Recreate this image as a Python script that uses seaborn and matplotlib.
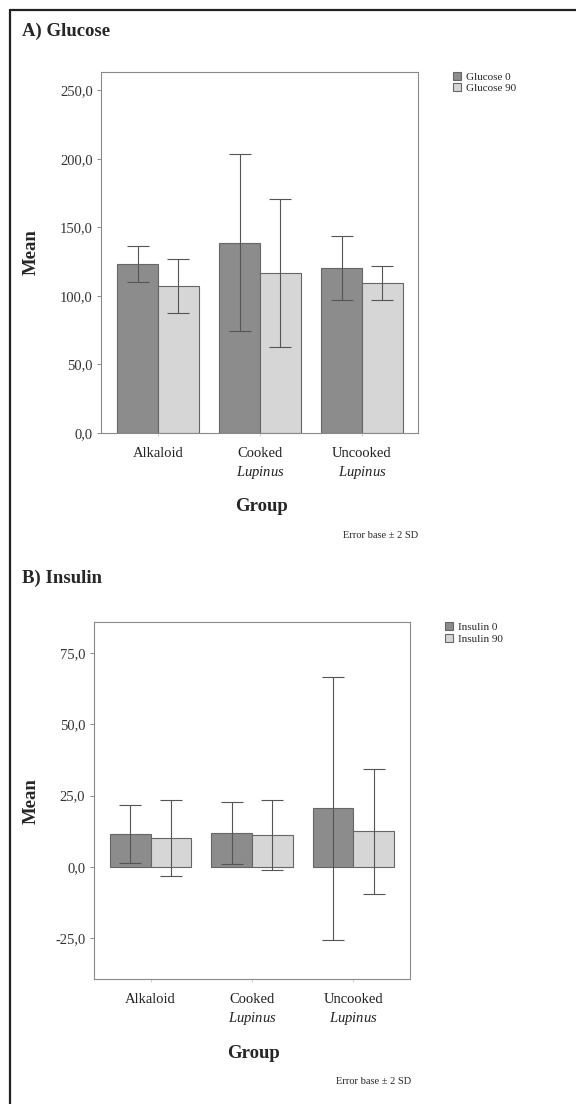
import pandas as pd
import seaborn as sns
import matplotlib.pyplot as plt
from matplotlib.lines import Line2D
from matplotlib.ticker import FuncFormatter

# Mean values and error (2 SD)
groups = ["Alkaloid", "Cooked Lupinus", "Uncooked Lupinus"]
group_labels = ["Alkaloid", "Cooked\n$\\it{Lupinus}$", "Uncooked\n$\\it{Lupinus}$"]

glucose_names = ["Glucose 0", "Glucose 90"]
glucose_0 = [123.4, 139.0, 120.6]
glucose_90 = [107.2, 116.5, 109.3]
glucose_0_err = [13.4, 64.5, 23.2]
glucose_90_err = [19.6, 54.0, 12.4]
glucose_ticks = [0, 50, 100, 150, 200, 250]

insulin_names = ["Insulin 0", "Insulin 90"]
insulin_0 = [11.5, 11.8, 20.5]
insulin_90 = [10.2, 11.1, 12.4]
insulin_0_err = [10.2, 10.8, 46.2]
insulin_90_err = [13.3, 12.3, 22.0]
insulin_ticks = [-25, 0, 25, 50, 75]

sns.set_style("white")
plt.rcParams['font.family'] = ['Liberation Serif', 'DejaVu Serif']
plt.rcParams['mathtext.fontset'] = 'custom'
plt.rcParams['mathtext.rm'] = 'Liberation Serif'
plt.rcParams['mathtext.it'] = 'Liberation Serif:italic'

dark = "#8c8c8c"
light = "#d6d6d6"
edge = "#666666"
spine_col = "#8a8a8a"

W, H = 576, 1104
fig = plt.figure(figsize=(W / 100, H / 100), dpi=100)


def comma(v, pos):
    return f"{v:.1f}".replace(".", ",")


def panel(ax, v0, v90, e0, e90, names, ticks, ylim, xlim, label_x, group_y):
    df = pd.DataFrame({
        "group": groups + groups,
        "series": [names[0]] * 3 + [names[1]] * 3,
        "mean": v0 + v90,
    })
    sns.barplot(data=df, x="group", y="mean", hue="series",
                palette=[dark, light], saturation=1, errorbar=None,
                edgecolor=edge, linewidth=0.8, width=0.8, ax=ax)
    # error bars at the bar centres, ordered group by group
    # (skip the empty rectangles seaborn keeps for the legend)
    bars = [b for b in ax.patches if b.get_width() > 0.1 and b.get_height() != 0]
    bars = sorted(bars, key=lambda b: b.get_x())
    errs = [e for pair in zip(e0, e90) for e in pair]
    for bar, err in zip(bars, errs):
        ax.errorbar(bar.get_x() + bar.get_width() / 2, bar.get_height(), yerr=err,
                    fmt="none", ecolor="#555555", elinewidth=0.8,
                    capsize=8, capthick=0.8)
    ax.set_ylim(*ylim)
    ax.set_xlim(*xlim)
    ax.set_yticks(ticks)
    ax.yaxis.set_major_formatter(FuncFormatter(comma))
    ax.set_xticks(range(len(groups)))
    ax.set_xticklabels(group_labels, fontsize=10.5, color="#222222", linespacing=1.35)
    ax.tick_params(axis="y", left=True, length=3, width=0.6, color="#777777",
                   pad=3, labelsize=10.5, labelcolor="#333333")
    ax.tick_params(axis="x", bottom=True, length=2, width=0.5, color="#bbbbbb", pad=8)
    for s in ax.spines.values():
        s.set_color(spine_col)
        s.set_linewidth(0.8)
    ax.set_xlabel("Group", fontsize=13.5, fontweight="bold", va="center")
    ax.xaxis.set_label_coords(0.505, group_y)
    ax.set_ylabel("Mean", fontsize=13.5, fontweight="bold", va="center")
    ax.yaxis.set_label_coords(label_x, 0.5)
    sns.move_legend(ax, "upper left", bbox_to_anchor=(1.11, 1.0), title=None,
                    frameon=False, fontsize=8, borderaxespad=0, borderpad=0,
                    handlelength=0.7, handleheight=0.7, handletextpad=0.5,
                    labelspacing=0.15)


ax1 = fig.add_axes([101 / W, 1 - 433 / H, 317 / W, 361 / H])
panel(ax1, glucose_0, glucose_90, glucose_0_err, glucose_90_err, glucose_names,
      glucose_ticks, (0, 263.5), (-0.56, 2.55), -0.22, -0.204)

ax2 = fig.add_axes([93.7 / W, 1 - 979 / H, 316.3 / W, 356.7 / H])
panel(ax2, insulin_0, insulin_90, insulin_0_err, insulin_90_err, insulin_names,
      insulin_ticks, (-39.4, 85.8), (-0.563, 2.56), -0.198, -0.2075)

fig.text(22 / W, 1 - 31 / H, "A) Glucose", fontsize=13.5, fontweight="bold", va="center")
fig.text(22 / W, 1 - 578 / H, "B) Insulin", fontsize=13.5, fontweight="bold", va="center")
fig.text(418 / W, 1 - 535 / H, "Error base \u00b1 2 SD", fontsize=7.5, ha="right", va="center")
fig.text(411 / W, 1 - 1082 / H, "Error base \u00b1 2 SD", fontsize=7.5, ha="right", va="center")

# outer frame (top and left edges)
fig.add_artist(Line2D([10 / W, 1], [1 - 10 / H, 1 - 10 / H], color="#222222", lw=1.6))
fig.add_artist(Line2D([10 / W, 10 / W], [1 - 10 / H, 0], color="#222222", lw=1.6))

fig.savefig("out.png", dpi=100, facecolor="white")
